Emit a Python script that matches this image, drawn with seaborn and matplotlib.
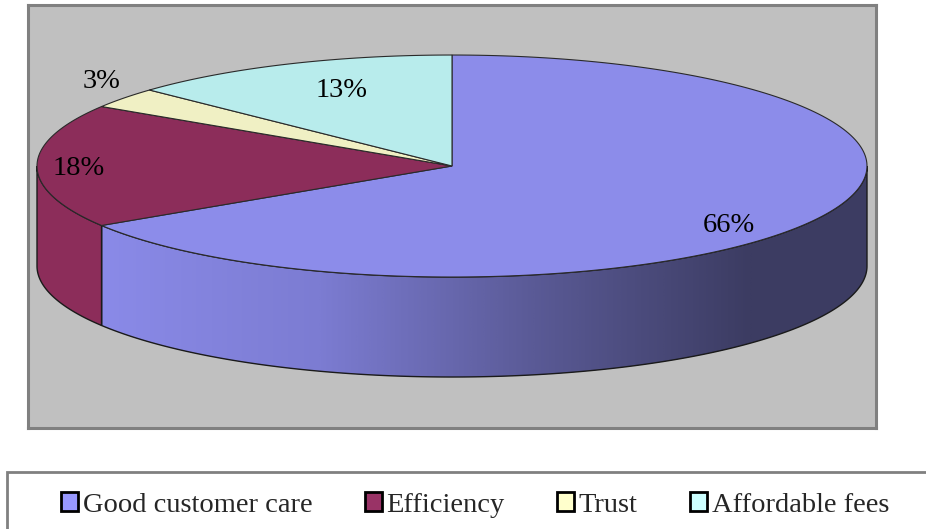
import numpy as np
import matplotlib
matplotlib.use("Agg")
import matplotlib.pyplot as plt
import seaborn as sns
from matplotlib.patches import Polygon, Patch, Rectangle
from matplotlib.colors import LinearSegmentedColormap

# data
categories = ["Good customer care", "Efficiency", "Trust", "Affordable fees"]
shares = [66, 18, 3, 13]
top_colors = ["#8C8CEA", "#8C2D5A", "#F0F0C4", "#B8ECEC"]
legend_colors = ["#9999FF", "#993366", "#FFFFCC", "#CCFFFF"]

sns.set_theme(style="white")
plt.rcParams["font.family"] = ["Liberation Serif", "DejaVu Serif"]

# geometry of the tilted pie (unit radius, flattened)
RY = 111 / 415
DEPTH = 100 / 415
FS = 20.5

fig = plt.figure(figsize=(9.26, 5.29), dpi=100)
ax = fig.add_axes([28 / 926, 1 - 428 / 529, 848 / 926, 423 / 529])
ax.set_facecolor("#C0C0C0")
for s in ax.spines.values():
    s.set_color("#808080")
    s.set_linewidth(2.2)
ax.set_xticks([])
ax.set_yticks([])
ax.set_xlim(-1.0217, 1.0217)
ax.set_ylim(-0.6313, 0.388)

fracs = np.array(shares) / np.sum(shares)
starts = 90 - 360 * np.concatenate([[0], np.cumsum(fracs)[:-1]])
ends = starts - 360 * fracs


def arc(t0, t1, n=200, dy=0.0):
    t = np.radians(np.linspace(t0, t1, n))
    return np.column_stack([np.cos(t), RY * np.sin(t) + dy])


# side walls (front half only)
side_cmap = LinearSegmentedColormap.from_list(
    "side", ["#8A8AE8", "#7C7CD2", "#5A5A96", "#3C3C62"])
for i, (st, en) in enumerate(zip(starts, ends)):
    lo, hi = max(en, -180), min(st, 0)
    if lo >= hi:
        continue
    pts = np.vstack([arc(lo, hi), arc(hi, lo, dy=-DEPTH)])
    if i == 0:
        poly = Polygon(pts, closed=True, facecolor="none", edgecolor="#1A1A1A",
                       lw=1.0, zorder=3)
        ax.add_patch(poly)
        grad = np.linspace(0, 1, 400).reshape(1, -1)
        x0 = pts[:, 0].min()
        im = ax.imshow(grad, cmap=side_cmap, aspect="auto", zorder=2,
                       extent=[x0, 0.72, pts[:, 1].min(), pts[:, 1].max()],
                       interpolation="bilinear")
        im.set_clip_path(poly)
        fill = Polygon(pts, closed=True, facecolor="#3C3C62", edgecolor="none",
                       zorder=1.9)
        ax.add_patch(fill)
    else:
        ax.add_patch(Polygon(pts, closed=True, facecolor=top_colors[i],
                             edgecolor="#1A1A1A", lw=1.0, zorder=2))

# top faces
for i, (st, en) in enumerate(zip(starts, ends)):
    pts = np.vstack([[0, 0], arc(st, en)])
    ax.add_patch(Polygon(pts, closed=True, facecolor=top_colors[i],
                         edgecolor="#2A2A2A", lw=0.8, zorder=4))

# percentage labels
lab_fx = [0.76, 0.90, 1.07, 0.67]
lab_fy = [1.05, 1.00, 1.28, 0.77]
for i, (st, en) in enumerate(zip(starts, ends)):
    mid = np.radians((st + en) / 2)
    x = lab_fx[i] * np.cos(mid)
    y = lab_fy[i] * RY * np.sin(mid) - 0.007
    ax.text(x, y, f"{shares[i]}%", ha="center", va="center", fontsize=FS,
            color="black", zorder=6)

# legend
handles = [Patch(facecolor=c, edgecolor="black", linewidth=2.0) for c in legend_colors]
fs_px = FS * 100 / 72
fig.legend(handles, categories, loc="center left",
           bbox_to_anchor=(61 / 926, 1 - 505 / 529), ncol=4, frameon=False,
           fontsize=FS, borderpad=0, borderaxespad=0,
           handlelength=17 / fs_px, handleheight=17 / fs_px,
           handletextpad=5 / fs_px, columnspacing=52 / fs_px)
fig.add_artist(Rectangle((7 / 926, -0.02), 1.0, 0.02 + (529 - 472) / 529,
                         transform=fig.transFigure, facecolor="none",
                         edgecolor="#808080", lw=2.0))

fig.savefig("out.png", dpi=100)
